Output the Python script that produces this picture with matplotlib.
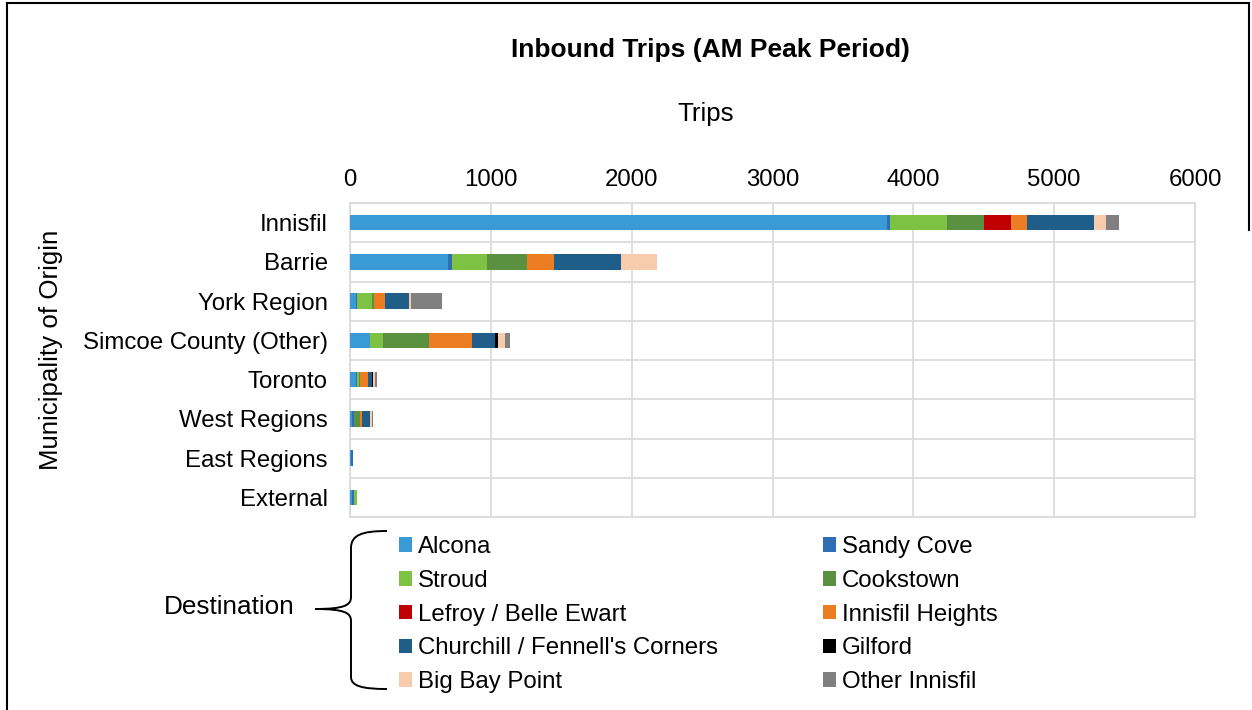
import matplotlib
matplotlib.use("Agg")
import matplotlib.pyplot as plt
import numpy as np
from matplotlib.path import Path
from matplotlib.patches import PathPatch
from matplotlib.lines import Line2D

plt.rcParams["font.family"] = ["Liberation Sans", "DejaVu Sans"]

# Municipalities of origin (top to bottom)
origins = ["Innisfil", "Barrie", "York Region", "Simcoe County (Other)",
           "Toronto", "West Regions", "East Regions", "External"]

# Destination zones (stack order, left to right)
destinations = ["Alcona", "Sandy Cove", "Stroud", "Cookstown",
                "Lefroy / Belle Ewart", "Innisfil Heights",
                "Churchill / Fennell's Corners", "Gilford",
                "Big Bay Point", "Other Innisfil"]

colors = ["#3A9AD6", "#2F6DB5", "#7DC242", "#5A9140", "#C00000",
          "#ED7D22", "#1F5E89", "#000000", "#F8CBAD", "#808080"]

# Trips per destination, one list per destination, values in origin order
alcona           = [3810, 695,  40, 139, 40, 16,  6, 16]
sandy_cove       = [  22,  30,  12,   0,  7, 10, 12, 12]
stroud           = [ 410, 246, 104,  97, 14,  0,  0, 19]
cookstown        = [ 258, 288,  12, 322,  7, 47,  0,  0]
lefroy           = [ 190,   0,   0,   0,  0,  0,  0,  0]
innisfil_heights = [ 118, 187,  82, 309, 57, 14,  0,  0]
churchill        = [ 473, 477, 166, 164, 33, 52,  0,  0]
gilford          = [   0,   0,   0,  21,  7,  0,  0,  0]
big_bay_point    = [  90, 260,  17,  52, 14, 14,  0,  0]
other_innisfil   = [  89,   0, 222,  31, 12, 10,  0,  0]

series = [alcona, sandy_cove, stroud, cookstown, lefroy, innisfil_heights,
          churchill, gilford, big_bay_point, other_innisfil]

xticks = [0, 1000, 2000, 3000, 4000, 5000, 6000]

W, H = 1252, 710
fig = plt.figure(figsize=(W / 100, H / 100), dpi=100)


def fx(px):
    return px / W


def fy(py):
    return 1 - py / H


ax = fig.add_axes([fx(350), fy(517), fx(1195) - fx(350), fy(203) - fy(517)])

y = np.arange(len(origins))
left = np.zeros(len(origins))
handles = []
for name, vals, c in zip(destinations, series, colors):
    vals = np.array(vals, dtype=float)
    bars = ax.barh(y, vals, left=left, height=0.4, color=c, label=name,
                   linewidth=0, zorder=3)
    handles.append(bars)
    left += vals

ax.set_xlim(0, 6000)
ax.set_ylim(len(origins) - 0.5, -0.5)
ax.set_xticks(xticks)
ax.set_xticklabels([str(v) for v in xticks])
ax.set_yticks(y)
ax.set_yticklabels(origins)
ax.set_yticks(np.arange(-0.5, len(origins), 1.0), minor=True)
ax.xaxis.tick_top()
ax.tick_params(axis="x", which="both", length=0, pad=9, labelsize=17.3)
ax.tick_params(axis="y", which="both", length=0, pad=16, labelsize=17.3)

grid_c = "#D9D9D9"
ax.grid(axis="x", which="major", color=grid_c, linewidth=1.2, zorder=0)
ax.grid(axis="y", which="minor", color=grid_c, linewidth=1.2, zorder=0)
ax.grid(axis="y", which="major", visible=False)
for s in ax.spines.values():
    s.set_color(grid_c)
    s.set_linewidth(1.2)

# Titles
fig.text(fx(710), fy(50), "Inbound Trips (AM Peak Period)", ha="center",
         va="center", fontsize=19.0, fontweight="bold")
fig.text(fx(706), fy(114), "Trips", ha="center", va="center", fontsize=18.6)
fig.text(fx(51), fy(350), "Municipality of Origin", ha="center", va="center",
         rotation=90, fontsize=18.6)

# Legend in two columns
col1 = [0, 2, 4, 6, 8]
col2 = [1, 3, 5, 7, 9]
leg_kw = dict(frameon=False, fontsize=17.3, handlelength=0.55,
              handleheight=0.55, handletextpad=0.25, labelspacing=0.49,
              borderpad=0, borderaxespad=0, loc="upper left")
leg1 = fig.legend([handles[i] for i in col1], [destinations[i] for i in col1],
                  bbox_to_anchor=(fx(399), fy(536)), **leg_kw)
leg2 = fig.legend([handles[i] for i in col2], [destinations[i] for i in col2],
                  bbox_to_anchor=(fx(823), fy(536)), **leg_kw)

# Brace grouping the legend entries
pts = [(387, 531), (362, 531), (351, 535), (351, 548),
       (351, 597),
       (351, 605), (345, 609), (315, 609),
       (345, 609), (351, 613), (351, 621),
       (351, 677),
       (351, 686), (362, 689), (387, 689)]
codes = [Path.MOVETO, Path.CURVE4, Path.CURVE4, Path.CURVE4,
         Path.LINETO,
         Path.CURVE4, Path.CURVE4, Path.CURVE4,
         Path.CURVE4, Path.CURVE4, Path.CURVE4,
         Path.LINETO,
         Path.CURVE4, Path.CURVE4, Path.CURVE4]
brace = Path([(fx(px), fy(py)) for px, py in pts], codes)
fig.add_artist(PathPatch(brace, transform=fig.transFigure, fill=False,
                         edgecolor="black", linewidth=1.4))
fig.text(fx(229), fy(607), "Destination", ha="center", va="center",
         fontsize=18.8)

# Frame lines around the figure
fig.add_artist(Line2D([fx(7), fx(7)], [0, fy(3)], transform=fig.transFigure,
                      color="black", linewidth=1.5))
fig.add_artist(Line2D([fx(7), fx(1249)], [fy(3), fy(3)],
                      transform=fig.transFigure, color="black", linewidth=1.5))
fig.add_artist(Line2D([fx(1249), fx(1249)], [fy(3), fy(230)],
                      transform=fig.transFigure, color="black", linewidth=1.5))

fig.savefig("out.png", dpi=100)
